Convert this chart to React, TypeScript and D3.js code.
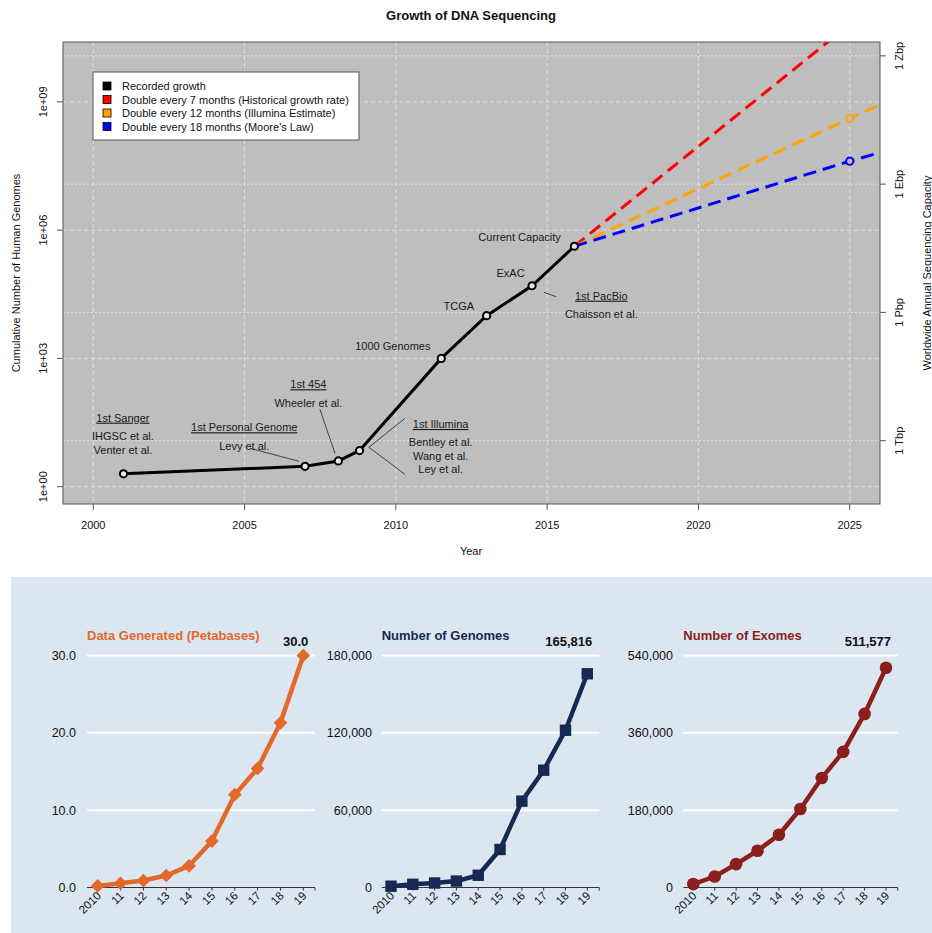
import * as d3 from "d3";

// ---- top chart data ----
const REC_YEARS = [2001, 2007, 2008.1, 2008.8, 2011.5, 2013, 2014.5, 2015.9];
const REC_GENOMES = [2, 3, 4, 7, 1000, 10000, 50000, 420000];

const PROJ_YEARS = [2015.9, 2025, 2026];
const PROJ_RED = [420000, 6.5e10, 2.4e11];
const PROJ_ORANGE = [420000, 4.1e8, 8.6e8];
const PROJ_BLUE = [420000, 4.1e7, 6.5e7];

const X_TICKS = [2000, 2005, 2010, 2015, 2020, 2025];
const Y_TICKS = [1, 1e3, 1e6, 1e9];
const Y_TICK_LABELS = ["1e+00", "1e+03", "1e+06", "1e+09"];
const BP_TICKS = [1e12, 1e15, 1e18, 1e21];
const BP_TICK_LABELS = ["1 Tbp", "1 Pbp", "1 Ebp", "1 Zbp"];
const BP_PER_GENOME = 8.4e10;

const LEGEND = [
  { color: "#000000", label: "Recorded growth" },
  { color: "#ff0000", label: "Double every 7 months (Historical growth rate)" },
  { color: "#ffa500", label: "Double every 12 months (Illumina Estimate)" },
  { color: "#0000ff", label: "Double every 18 months (Moore's Law)" },
];

// annotations: anchor in (year, log10 genomes)
const NOTES = [
  { year: 2000.98, lg: 1.614, title: "1st Sanger", lines: ["IHGSC et al.", "Venter et al."] },
  { year: 2004.99, lg: 1.389, title: "1st Personal Genome", lines: ["Levy et al."] },
  { year: 2007.11, lg: 2.395, title: "1st 454", lines: ["Wheeler et al."] },
  { year: 2011.48, lg: 1.466, title: "1st Illumina", lines: ["Bentley et al.", "Wang et al.", "Ley et al."] },
  { year: 2016.79, lg: 4.467, title: "1st PacBio", lines: ["Chaisson et al."] },
  { year: 2009.9, lg: 3.291, title: "", lines: ["1000 Genomes"] },
  { year: 2012.08, lg: 4.233, title: "", lines: ["TCGA"] },
  { year: 2013.79, lg: 4.991, title: "", lines: ["ExAC"] },
  { year: 2014.09, lg: 5.847, title: "", lines: ["Current Capacity"] },
];
const POINTERS = [
  [2005.18, 0.898, 2006.8, 0.594],
  [2007.49, 1.81, 2007.99, 0.781],
  [2009.11, 0.921, 2010.3, 1.6],
  [2009.11, 0.921, 2010.3, 0.29],
  [2014.89, 4.546, 2015.3, 4.443],
];

// ---- bottom panels data ----
const YEAR_LABELS = ["2010", "11", "12", "13", "14", "15", "16", "17", "18", "19"];
const PETABASES = [0.2, 0.55, 0.9, 1.55, 2.8, 6.0, 12.0, 15.4, 21.3, 30.0];
const GENOMES = [1000, 2500, 3500, 5000, 9500, 29500, 67000, 91000, 122000, 165816];
const EXOMES = [8000, 25600, 54500, 85500, 122800, 182700, 255000, 315600, 404000, 511577];

const FONT = "'Liberation Sans', Arial, Helvetica, sans-serif";

function TopChart() {
  const L = 63, R = 880, T = 42, B = 504;
  const x = d3.scaleLinear().domain([1999, 2026]).range([L, R]);
  const y = d3.scaleLog().domain([Math.pow(10, -0.405), Math.pow(10, 10.4)]).range([B, T]);
  const yr = d3.scaleLog().domain(y.domain().map((v) => v * BP_PER_GENOME)).range([B, T]);
  const ly = (lg: number) => y(Math.pow(10, lg));

  const line = d3.line<[number, number]>().x((d) => x(d[0])).y((d) => y(d[1]));
  const rec = REC_YEARS.map((v, i) => [v, REC_GENOMES[i]] as [number, number]);
  const proj = [
    { c: "#ff0000", v: PROJ_RED, mark: false },
    { c: "#ffa500", v: PROJ_ORANGE, mark: true },
    { c: "#0000ff", v: PROJ_BLUE, mark: true },
  ];

  return (
    <g fontFamily={FONT}>
      <text x={471} y={20} textAnchor="middle" fontSize={13} fontWeight="bold" fill="#111">Growth of DNA Sequencing</text>
      <clipPath id="plotclip"><rect x={L} y={T} width={R - L} height={B - T} /></clipPath>
      <rect x={L} y={T} width={R - L} height={B - T} fill="#bebebe" />
      {/* grid */}
      {X_TICKS.map((t) => (
        <line key={"gx" + t} x1={x(t)} x2={x(t)} y1={T} y2={B} stroke="#e8e8e8" strokeDasharray="4,3" strokeWidth={0.8} />
      ))}
      {Y_TICKS.map((t) => (
        <line key={"gy" + t} x1={L} x2={R} y1={y(t)} y2={y(t)} stroke="#e8e8e8" strokeDasharray="4,3" strokeWidth={0.8} />
      ))}
      {BP_TICKS.map((t) => (
        <line key={"gb" + t} x1={L} x2={R} y1={yr(t)} y2={yr(t)} stroke="#e8e8e8" strokeDasharray="2,2" strokeWidth={0.8} />
      ))}
      {/* projections */}
      <g clipPath="url(#plotclip)">
        {proj.map((p) => (
          <path key={p.c} d={line(PROJ_YEARS.map((v, i) => [v, p.v[i]] as [number, number])) || ""} fill="none" stroke={p.c} strokeWidth={3} strokeDasharray="13,7" />
        ))}
        {proj.filter((p) => p.mark).map((p) => (
          <circle key={"m" + p.c} cx={x(PROJ_YEARS[1])} cy={y(p.v[1])} r={3.6} fill="#bebebe" stroke={p.c} strokeWidth={2} />
        ))}
      </g>
      {/* recorded */}
      <path d={line(rec) || ""} fill="none" stroke="#000" strokeWidth={3} />
      {rec.map((d, i) => (
        <circle key={"r" + i} cx={x(d[0])} cy={y(d[1])} r={3.6} fill="#e6e6e6" stroke="#000" strokeWidth={2} />
      ))}
      {/* annotations */}
      {POINTERS.map((p, i) => (
        <line key={"p" + i} x1={x(p[0])} y1={ly(p[1])} x2={x(p[2])} y2={ly(p[3])} stroke="#222" strokeWidth={0.8} />
      ))}
      {NOTES.map((n, i) => {
        const cx = x(n.year);
        const cy = ly(n.lg);
        const off = n.title ? 18.5 : 0;
        return (
          <g key={"n" + i} fontSize={11} fill="#1a1a1a" textAnchor="middle">
            {n.title && (
              <text x={cx} y={cy + 4} textDecoration="underline">{n.title}</text>
            )}
            {n.lines.map((l, j) => (
              <text key={j} x={cx} y={cy + 4 + off + j * 13.5}>{l}</text>
            ))}
          </g>
        );
      })}
      <rect x={L} y={T} width={R - L} height={B - T} fill="none" stroke="#555" strokeWidth={1} />
      {/* bottom axis */}
      {X_TICKS.map((t) => (
        <g key={"xt" + t}>
          <line x1={x(t)} x2={x(t)} y1={B} y2={B + 6} stroke="#555" />
          <text x={x(t)} y={B + 25} textAnchor="middle" fontSize={11} fill="#111">{t}</text>
        </g>
      ))}
      <text x={471} y={555} textAnchor="middle" fontSize={11} fill="#111">Year</text>
      {/* left axis */}
      {Y_TICKS.map((t, i) => (
        <g key={"yt" + t}>
          <line x1={L - 6} x2={L} y1={y(t)} y2={y(t)} stroke="#555" />
          <text transform={`translate(47,${y(t)}) rotate(-90)`} textAnchor="middle" fontSize={11} fill="#111">{Y_TICK_LABELS[i]}</text>
        </g>
      ))}
      <text transform={`translate(20,${(T + B) / 2}) rotate(-90)`} textAnchor="middle" fontSize={11} fill="#111">Cumulative Number of Human Genomes</text>
      {/* right axis */}
      {BP_TICKS.map((t, i) => (
        <g key={"bt" + t}>
          <line x1={R} x2={R + 6} y1={yr(t)} y2={yr(t)} stroke="#555" />
          <text transform={`translate(903,${yr(t)}) rotate(-90)`} textAnchor="middle" fontSize={11} fill="#111">{BP_TICK_LABELS[i]}</text>
        </g>
      ))}
      <text transform={`translate(931,${(T + B) / 2}) rotate(-90)`} textAnchor="middle" fontSize={11} fill="#111">Worldwide Annual Sequencing Capacity</text>
      {/* legend */}
      <rect x={93} y={72} width={266} height={68} fill="#fff" stroke="#555" />
      {LEGEND.map((l, i) => (
        <g key={"lg" + i}>
          <rect x={103} y={82 + i * 13.5} width={8} height={8} fill={l.color} stroke="#000" strokeWidth={0.8} />
          <text x={122} y={90 + i * 13.5} fontSize={11} fill="#111">{l.label}</text>
        </g>
      ))}
    </g>
  );
}

type PanelProps = {
  title: string;
  color: string;
  values: number[];
  max: number;
  ticks: number[];
  fmt: (v: number) => string;
  last: string;
  gx0: number;
  gx1: number;
  px0: number;
  px1: number;
  labelRight: number;
  marker: "diamond" | "square" | "circle";
};

function Panel(p: PanelProps) {
  const top = 655.5, bottom = 887.5;
  const x = d3.scaleLinear().domain([0, p.values.length - 1]).range([p.px0, p.px1]);
  const y = d3.scaleLinear().domain([0, p.max]).range([bottom, top]);
  const line = d3.line<number>().x((_, i) => x(i)).y((d) => y(d));
  const sym =
    p.marker === "diamond"
      ? d3.symbol(d3.symbolDiamond2, 120)()
      : p.marker === "square"
      ? d3.symbol(d3.symbolSquare, 130)()
      : d3.symbol(d3.symbolCircle, 125)();
  return (
    <g fontFamily={FONT}>
      <text x={p.gx0} y={640} fontSize={13} fontWeight="bold" fill={p.color}>{p.title}</text>
      {p.ticks.filter((t) => t > 0).map((t) => (
        <line key={t} x1={p.gx0} x2={p.gx1} y1={y(t)} y2={y(t)} stroke="#fff" strokeWidth={2} />
      ))}
      {p.ticks.map((t) => (
        <text key={"l" + t} x={p.labelRight} y={y(t) + 4.5} textAnchor="end" fontSize={12.5} fill="#111">{p.fmt(t)}</text>
      ))}
      <line x1={p.gx0} x2={p.gx1} y1={bottom} y2={bottom} stroke="#333" strokeWidth={1} />
      {p.values.map((_, i) => (
        <line key={"tk" + i} x1={x(i)} x2={x(i)} y1={bottom} y2={bottom + 3} stroke="#333" />
      ))}
      <line x1={p.gx1} x2={p.gx1} y1={bottom} y2={bottom + 3} stroke="#333" />
      {YEAR_LABELS.map((l, i) => (
        <text key={"yl" + i} transform={`translate(${x(i) + 4},${bottom + 9}) rotate(-45)`} textAnchor="end" fontSize={11.5} fill="#111">{l}</text>
      ))}
      <path d={line(p.values) || ""} fill="none" stroke={p.color} strokeWidth={4.5} strokeLinejoin="round" />
      {p.values.map((v, i) => (
        <path key={"m" + i} d={sym || ""} transform={`translate(${x(i)},${y(v)})`} fill={p.color} />
      ))}
      <text x={p.px1 + 5} y={646} textAnchor="end" fontSize={13} fontWeight="bold" fill="#111">{p.last}</text>
    </g>
  );
}

export default function App() {
  const comma = d3.format(",");
  return (
    <svg width={932} height={933} style={{ position: "absolute", left: 0, top: 0, background: "#fff" }}>
      <TopChart />
      <rect x={11} y={577} width={921} height={356} fill="#dce6f1" />
      <Panel title="Data Generated (Petabases)" color="#e2692a" values={PETABASES} max={30} ticks={[0, 10, 20, 30]}
        fmt={(v) => v.toFixed(1)} last="30.0" gx0={87} gx1={315} px0={97.7} px1={303.3} labelRight={76} marker="diamond" />
      <Panel title="Number of Genomes" color="#142a52" values={GENOMES} max={180000} ticks={[0, 60000, 120000, 180000]}
        fmt={comma} last={comma(GENOMES[GENOMES.length - 1])} gx0={381.7} gx1={599.3} px0={391} px1={587.3} labelRight={372} marker="square" />
      <Panel title="Number of Exomes" color="#8a1f1c" values={EXOMES} max={540000} ticks={[0, 180000, 360000, 540000]}
        fmt={comma} last={comma(EXOMES[EXOMES.length - 1])} gx0={683.3} gx1={897.7} px0={693.3} px1={886} labelRight={673} marker="circle" />
    </svg>
  );
}
